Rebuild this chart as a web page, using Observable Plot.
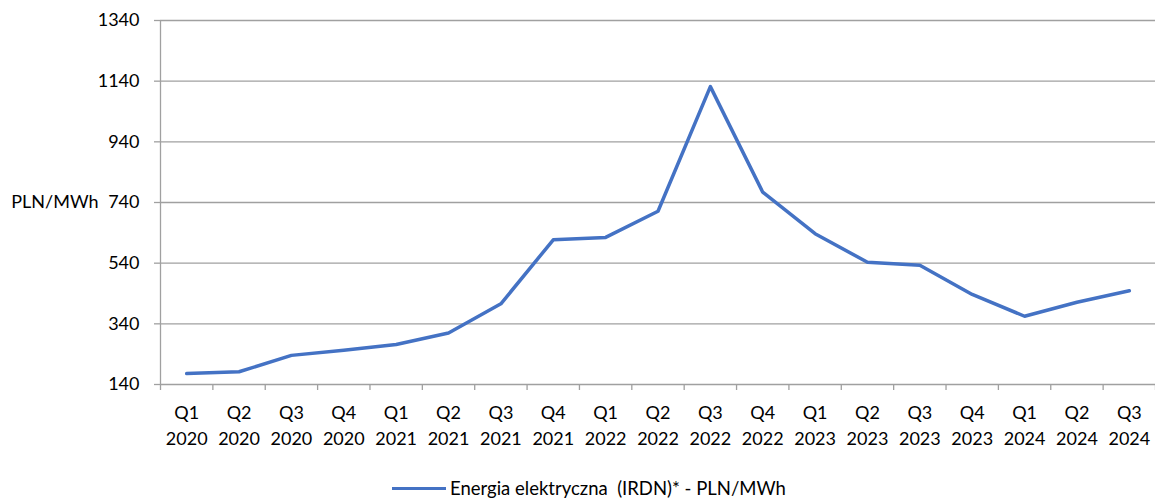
<!DOCTYPE html>
<html>
<head>
<meta charset="utf-8">
<script src="https://cdn.jsdelivr.net/npm/d3@7"></script>
<script src="https://cdn.jsdelivr.net/npm/@observablehq/plot@0.6"></script>
<style>
  body { margin: 0; background: #fff; font-family: Lato, "Noto Sans", sans-serif; }
  #wrap { position: relative; width: 1155px; height: 500px; }
  #legend { position: absolute; left: 392px; top: 477px; display: flex; align-items: center; font-size: 18.5px; color: #000; white-space: pre; }
  #legend .sw { width: 54px; height: 0; border-top: 3.5px solid #4472C4; margin-right: 4px; }
</style>
</head>
<body>
<div id="wrap">
  <div id="chart"></div>
  <div id="legend"><span class="sw"></span><span>Energia elektryczna  (IRDN)* - PLN/MWh</span></div>
</div>
<script>
const quarters = ["Q1","Q2","Q3","Q4","Q1","Q2","Q3","Q4","Q1","Q2","Q3","Q4","Q1","Q2","Q3","Q4","Q1","Q2","Q3"];
const years = ["2020","2020","2020","2020","2021","2021","2021","2021","2022","2022","2022","2022","2023","2023","2023","2023","2024","2024","2024"];
const values = [176, 182, 236, 253, 272, 310, 406, 617, 625, 711, 1122, 774, 637, 543, 533, 437, 365, 411, 449];
const yTicks = [140, 340, 540, 740, 940, 1140, 1340];
const seriesName = "Energia elektryczna  (IRDN)* - PLN/MWh";
const yLabel = "PLN/MWh";

const data = values.map((v, i) => ({i: i + 0.5, v, label: quarters[i] + "\n" + years[i]}));
const boundaries = d3.range(0, values.length + 1);
const centers = data.map(d => d.i);
const labelOf = new Map(data.map(d => [d.i, d.label]));

const gray = "#a0a0a0";
const fs = 18;
const chart = Plot.plot({
  width: 1155,
  height: 460,
  marginLeft: 160,
  marginRight: 0,
  marginTop: 20,
  marginBottom: 76,
  style: {fontFamily: "Lato, 'Noto Sans', sans-serif", fontSize: fs + "px", color: "#000", background: "#fff"},
  x: {type: "linear", domain: [0, values.length], axis: null},
  y: {domain: [140, 1340], axis: null},
  marks: [
    Plot.gridY(yTicks, {stroke: gray, strokeOpacity: 1, strokeWidth: 1.3}),
    Plot.axisY(yTicks, {tickSize: 6, tickPadding: 15, stroke: gray, strokeWidth: 1.3, tickFormat: d => String(d), label: null, fill: "#000", fontSize: fs}),
    Plot.ruleX([0], {stroke: gray, strokeWidth: 1.3}),
    Plot.axisX(boundaries, {tickSize: 6, tickFormat: () => "", stroke: gray, strokeWidth: 1.3, label: null}),
    Plot.axisX(centers, {tickSize: 0, tickPadding: 16, tickFormat: d => labelOf.get(d), lineHeight: 1.45, label: null, fill: "#000", fontSize: fs}),
    Plot.text([yLabel], {frameAnchor: "left", dx: -62, textAnchor: "end", text: d => d, fill: "#000", fontSize: fs}),
    Plot.line(data, {x: "i", y: "v", stroke: "#4472C4", strokeWidth: 3.5, strokeLinejoin: "round", strokeLinecap: "round"})
  ]
});
document.getElementById("chart").appendChild(chart);
</script>
</body>
</html>
